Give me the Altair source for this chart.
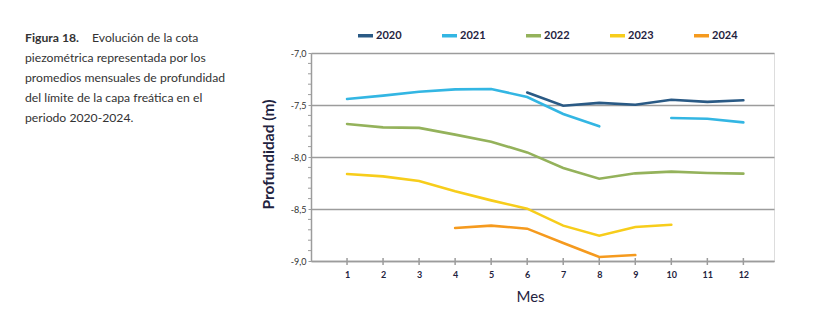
import altair as alt
import pandas as pd

months = list(range(1, 13))
years = ["2020", "2021", "2022", "2023", "2024"]
colors = ["#2a5a85", "#33b6e3", "#94b25b", "#f7cd1b", "#f59a1e"]

v2020 = [None, None, None, None, None, -7.38, -7.507, -7.48, -7.497, -7.449, -7.47, -7.455]
v2021 = [-7.442, -7.41, -7.372, -7.35, -7.346, -7.423, -7.587, -7.705, None, -7.625, -7.632, -7.667]
v2022 = [-7.683, -7.715, -7.72, -7.785, -7.853, -7.956, -8.106, -8.209, -8.157, -8.141, -8.154, -8.16]
v2023 = [-8.164, -8.186, -8.231, -8.33, -8.417, -8.497, -8.66, -8.757, -8.673, -8.651, None, None]
v2024 = [None, None, None, -8.683, -8.66, -8.689, -8.827, -8.962, -8.943, None, None, None]
series = [v2020, v2021, v2022, v2023, v2024]

y_major = [-9.0, -8.5, -8.0, -7.5, -7.0]
y_minor = [-8.9, -8.8, -8.7, -8.6, -8.4, -8.3, -8.2, -8.1, -7.9, -7.8, -7.7, -7.6,
           -7.4, -7.3, -7.2, -7.1]

caption_bold = "Figura 18."
caption_first = "Evolución de la cota"
caption_lines = [
    "piezométrica representada por los",
    "promedios mensuales de profundidad",
    "del límite de la capa freática en el",
    "periodo 2020-2024.",
]

rows = []
for yr, vals in zip(years, series):
    seg = 0
    for m, v in zip(months, vals):
        if v is None:
            seg += 1
            continue
        rows.append({"Mes": m, "Profundidad": v, "Año": yr, "seg": f"{yr}-{seg}"})
df = pd.DataFrame(rows)

W, H = 463, 208
FONT = "Lato"
NAVY = "#1f2340"
GRID = "#9c9c9c"

xscale = alt.Scale(domain=[0, 12.85], nice=False, zero=False)
yscale = alt.Scale(domain=[-9.0, -7.0], nice=False, zero=False)

lines = alt.Chart(df).mark_line(strokeWidth=2.6, strokeCap="round").encode(
    x=alt.X("Mes:Q", scale=xscale,
            axis=alt.Axis(values=months, format="d", ticks=False, grid=False,
                          labelPadding=9, labelFont=FONT, labelFontSize=9,
                          labelFontWeight="bold", labelColor=NAVY,
                          domainColor=GRID, domainWidth=1.5,
                          title="Mes", titleFont=FONT, titleFontSize=15,
                          titleFontWeight="normal", titleColor=NAVY,
                          titleX=219, titleY=40, titleAlign="center",
                          titleBaseline="alphabetic")),
    y=alt.Y("Profundidad:Q", scale=yscale,
            axis=alt.Axis(values=y_major, grid=True, gridColor=GRID, gridWidth=1.5,
                          tickSize=3, tickColor=GRID, domainColor=GRID, domainWidth=1.5,
                          labelExpr="(datum.value < 0 ? '-' : '') + replace(format(abs(datum.value), '.1f'), '.', ',')",
                          labelFont=FONT, labelFontSize=9, labelColor="#333333",
                          labelPadding=2,
                          title="Profundidad (m)", titleFont=FONT, titleFontSize=15.5,
                          titleFontWeight="bold", titleColor=NAVY,
                          titleX=-43, titleY=101, titleAlign="center",
                          titleBaseline="middle")),
    color=alt.Color("Año:N", scale=alt.Scale(domain=years, range=colors),
                    legend=alt.Legend(orient="none", legendX=45, legendY=-27,
                                      direction="horizontal", columns=5,
                                      title=None, symbolType="stroke",
                                      symbolSize=225, symbolStrokeWidth=3.5,
                                      labelFont=FONT, labelFontSize=11,
                                      labelFontWeight="bold", labelColor=NAVY,
                                      labelOffset=1, columnPadding=33, padding=0)),
    detail="seg:N",
)

minor = alt.Chart(pd.DataFrame({"v": y_minor})).mark_rule(color=GRID, strokeWidth=1).encode(
    y=alt.Y("v:Q", scale=yscale),
    x=alt.value(-3), x2=alt.value(0),
)

xticks = alt.Chart(pd.DataFrame({"m": months})).mark_rule(color=GRID, strokeWidth=1.5).encode(
    x=alt.X("m:Q", scale=xscale),
    y=alt.value(H - 3), y2=alt.value(H + 4),
)

def txt(s, x, y, bold=False):
    return alt.Chart(pd.DataFrame({"t": [s]})).mark_text(
        font=FONT, fontSize=12.2, color="#333333", align="left", baseline="middle",
        fontWeight="bold" if bold else "normal",
    ).encode(text="t:N", x=alt.value(x), y=alt.value(y))

caption = [txt(caption_bold, 25 - 311, 38 - 53, bold=True),
           txt(caption_first, 92 - 311, 38 - 53)]
for i, line in enumerate(caption_lines):
    caption.append(txt(line, 25 - 311, 58 - 53 + 20 * i))

chart = alt.layer(minor, xticks, lines, *caption).properties(
    width=W, height=H,
    autosize=alt.AutoSizeParams(type="none"),
    padding={"left": 311, "top": 53, "right": 43, "bottom": 61},
).configure_view(stroke=None).configure(background="white")

chart.save("out.html", embed_options={"renderer": "svg", "actions": False})
